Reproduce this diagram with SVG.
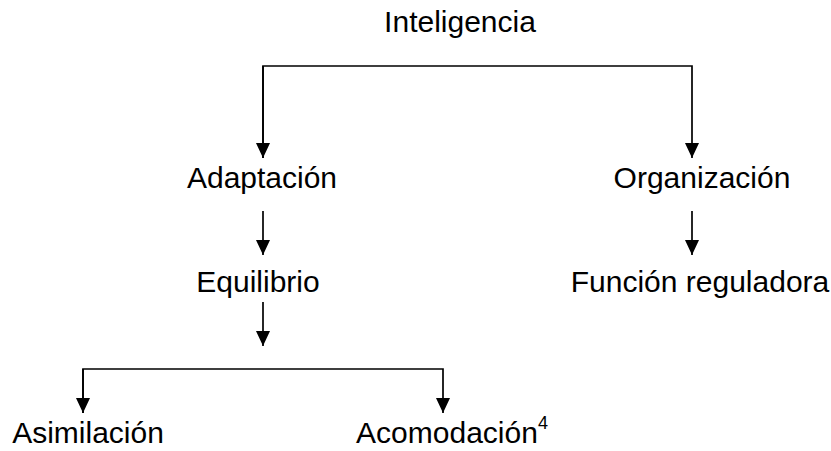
<svg xmlns="http://www.w3.org/2000/svg" width="831" height="451" viewBox="0 0 831 451">
<style>
text{font-family:"Liberation Sans",Arial,sans-serif;font-size:30px;fill:#000;text-anchor:middle}
.c{fill:none;stroke:#000;stroke-width:1.7}
</style>
<defs>
<marker id="ah" markerUnits="userSpaceOnUse" markerWidth="14" markerHeight="15" viewBox="0 0 14 15" refX="7" refY="15" orient="0">
<path d="M0,0 L14,0 L7,15 Z" fill="#000"/>
</marker>
</defs>
<rect width="831" height="451" fill="#fff"/>
<g id="connectors">
<path class="c" d="M263,158 V66 H692 V158" marker-end="url(#ah)"/>
<path class="c" d="M263,66 V158" marker-end="url(#ah)"/>
<path class="c" d="M263,211 V255" marker-end="url(#ah)"/>
<path class="c" d="M692,211 V255" marker-end="url(#ah)"/>
<path class="c" d="M263,302 V346" marker-end="url(#ah)"/>
<path class="c" d="M83,413 V369 H443 V413" marker-end="url(#ah)"/>
<path class="c" d="M83,369 V413" marker-end="url(#ah)"/>
</g>
<g id="inteligencia"><text x="460" y="32">Inteligencia</text></g>
<g id="adaptacion"><text x="262" y="188">Adaptación</text></g>
<g id="organizacion"><text x="702" y="188">Organización</text></g>
<g id="equilibrio"><text x="258" y="292">Equilibrio</text></g>
<g id="funcion"><text x="700" y="292">Función reguladora</text></g>
<g id="asimilacion"><text x="88" y="443">Asimilación</text></g>
<g id="acomodacion"><text x="452" y="443">Acomodación<tspan font-size="18" dy="-14">4</tspan></text></g>
</svg>
